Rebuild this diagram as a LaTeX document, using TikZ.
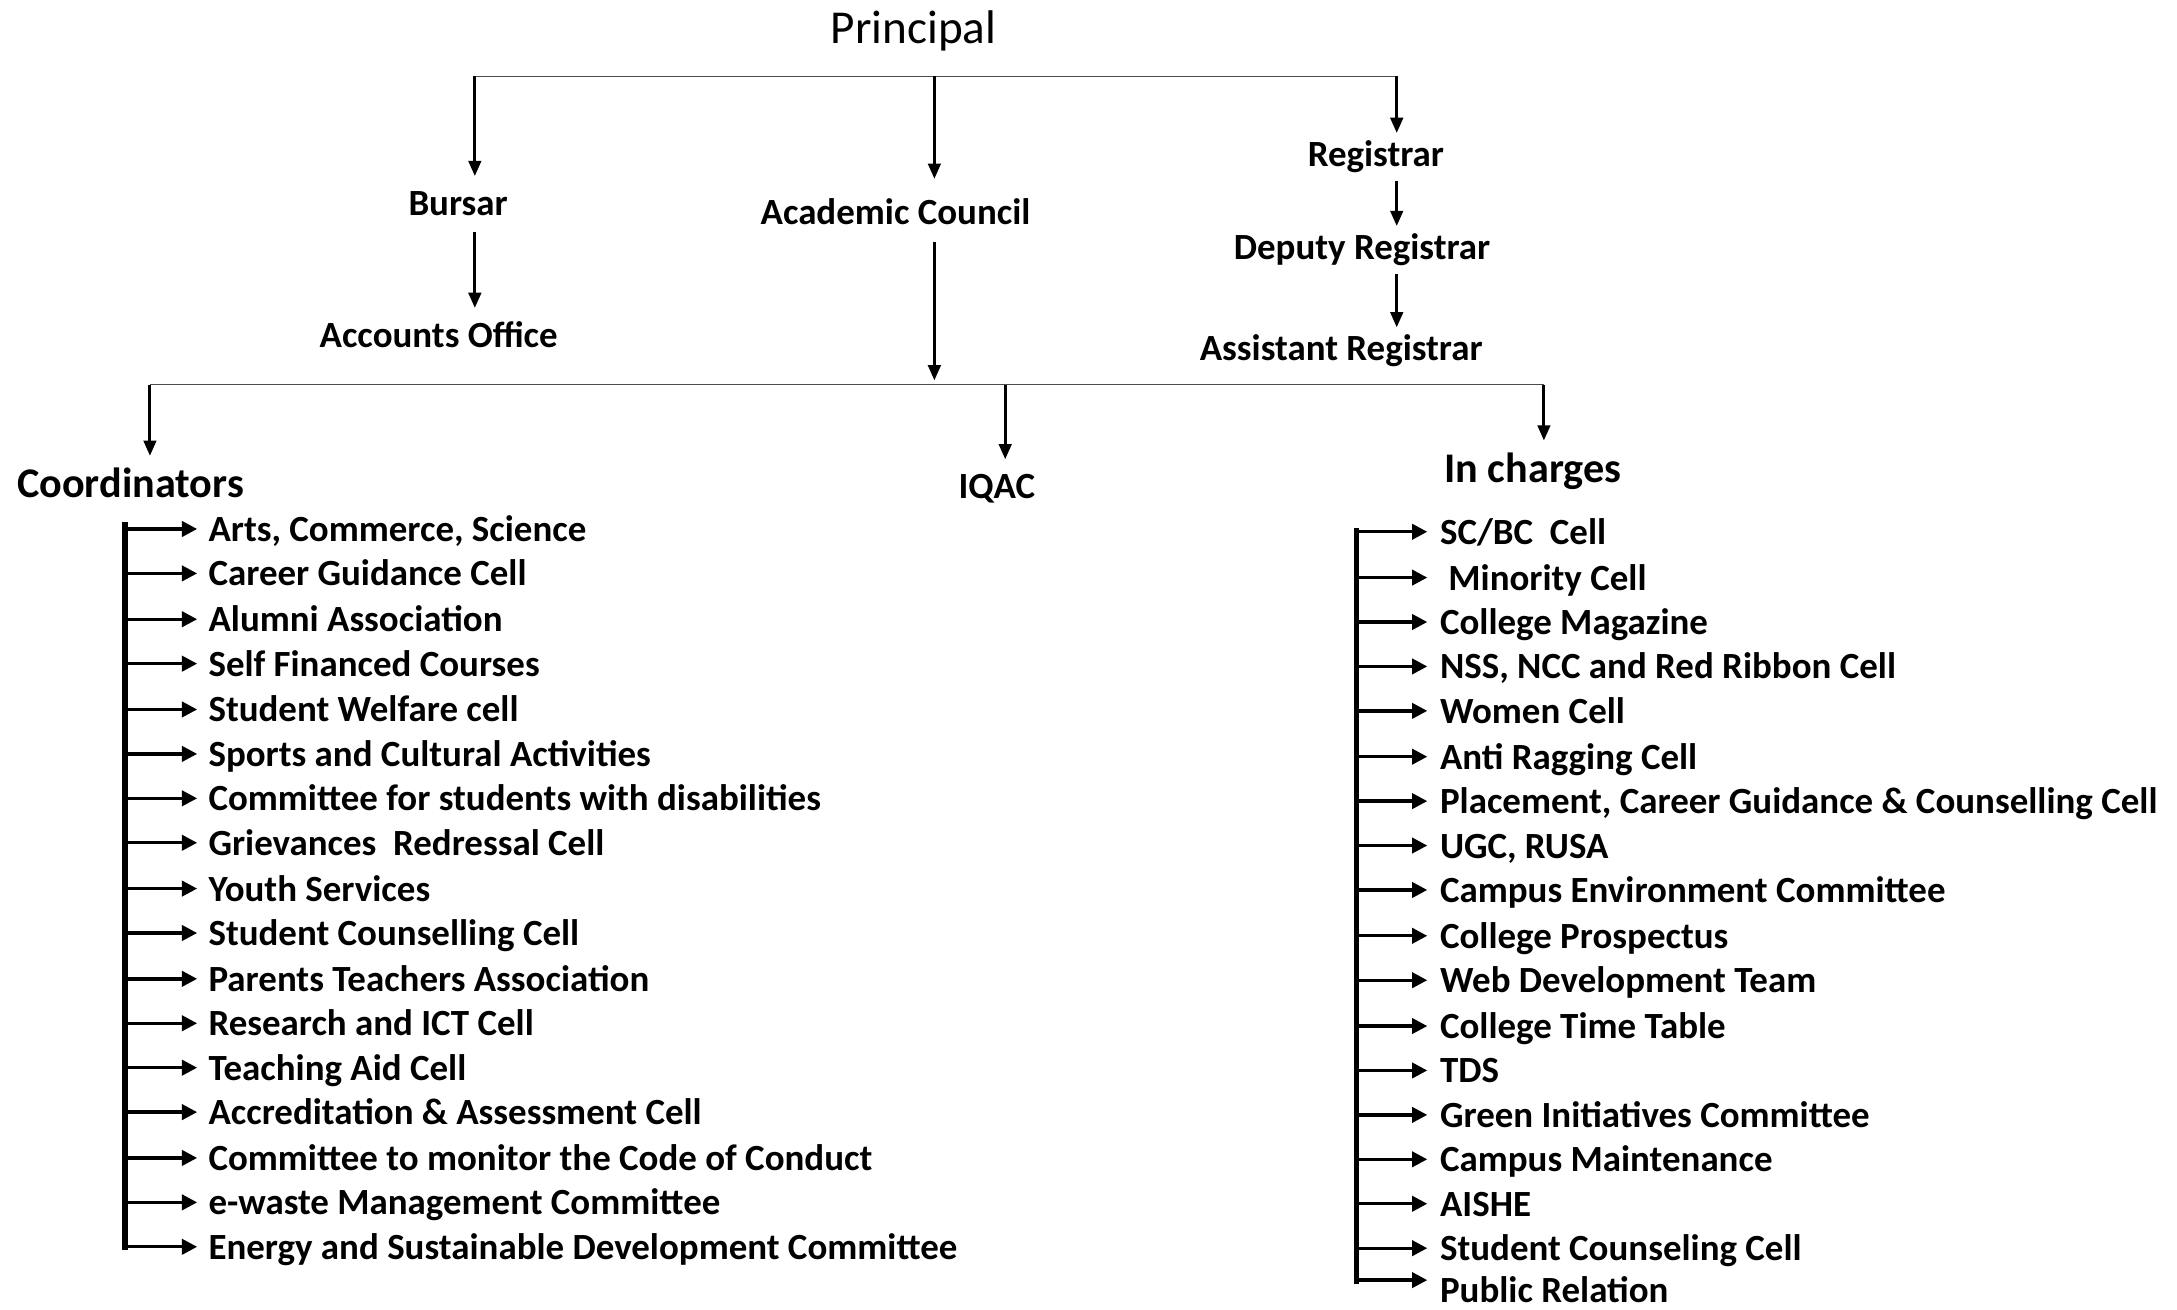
\documentclass[tikz,border=0pt]{standalone}
\usepackage{fontspec}
\setmainfont{Carlito}
\usepackage{tikz}
\usetikzlibrary{arrows.meta}
\tikzset{
Titre/.style={
 font=\fontsize{34}{40}\selectfont,
 inner sep=2pt
 },
Poste/.style={
 font=\bfseries\fontsize{26.6}{32}\selectfont,
 text height=22pt,
 text depth=4pt,
 inner sep=2pt
 },
Groupe/.style={
 font=\bfseries\fontsize{30.4}{36}\selectfont,
 text height=24pt,
 text depth=5pt,
 inner sep=2pt
 },
Cellule/.style={
 Poste,
 anchor=west
 },
Fleche/.style={
 draw=black,
 line width=2.2pt,
 shorten >=4pt,
 -{Triangle[length=11pt,width=9pt]}
 },
LFleche/.style={
 draw=black,
 line width=2.4pt,
 shorten >=#1,
 -{Triangle[length=11pt,width=11pt]}
 },
LFleche/.default={6pt},
Barre/.style={
 draw=black,
 line width=3.8pt
 },
Bus/.style={
 draw=black!70,
 line width=1pt
 }
}
\begin{document}
\begin{tikzpicture}[x=1pt,y=-1pt]
\useasboundingbox (0,0) rectangle (1568,943);
% haut
\node[Titre] (principal) at (658,22) {Principal};
\coordinate (h1) at (341,55);
\coordinate (h2) at (1006,55);
\draw[Bus] (h1) -- (h2);
\coordinate (cb) at (342,55);
\coordinate (ca) at (673,55);
\coordinate (cr) at (1006,55);
\node[Poste] (bursar) at (330,146) {Bursar};
\node[Poste] (accounts) at (316,241) {Accounts Office};
\node[Poste] (academic) at (645,153) {Academic Council};
\node[Poste] (registrar) at (991,111) {Registrar};
\node[Poste] (deputy) at (981,178) {Deputy Registrar};
\node[Poste] (assistant) at (966,251) {Assistant Registrar};
\draw[Fleche] (cb) -- (cb |- bursar.north);
\draw[Fleche, shorten >=9pt] (ca) -- (ca |- academic.north);
\draw[Fleche, shorten >=0pt] (cr) -- (cr |- registrar.north);
\draw[Fleche] ([yshift=-6pt]cb |- bursar.south) -- (cb |- accounts.north);
\draw[Fleche, shorten >=0pt] ([yshift=-4pt]cr |- registrar.south) -- (cr |- deputy.north);
\draw[Fleche, shorten >=0pt] ([yshift=-4pt]cr |- deputy.south) -- (cr |- assistant.north);
% milieu
\coordinate (g1) at (108,277);
\coordinate (g2) at (1112,277);
\coordinate (gi) at (724,277);
\draw[Bus] (g1) -- (g2);
\draw[Fleche, shorten >=3pt] ([yshift=-6pt]ca |- academic.south) -- (ca |- g1);
\node[Groupe] (coord) at (94,349) {Coordinators};
\node[Poste] (iqac) at (718,350) {IQAC};
\node[Groupe] (incharges) at (1104,338) {In charges};
\draw[Fleche] (g1) -- (g1 |- coord.north);
\draw[Fleche] (gi) -- (gi |- iqac.north);
\draw[Fleche] (g2) -- (g2 |- incharges.north);
% coordinateurs
\coordinate (gh) at (90,376);
\coordinate (gb) at (90,900);
\draw[Barre] (gh) -- (gb);
\node[Cellule] (c1) at (148,381) {Arts, Commerce, Science};
\node[Cellule] (c2) at (148,413) {Career Guidance Cell};
\node[Cellule] (c3) at (148,446) {Alumni Association};
\node[Cellule] (c4) at (148,478) {Self Financed Courses};
\node[Cellule] (c5) at (148,511) {Student Welfare cell};
\node[Cellule] (c6) at (148,543) {Sports and Cultural Activities};
\node[Cellule] (c7) at (148,575) {Committee for students with disabilities};
\node[Cellule] (c8) at (148,607) {Grievances \ Redressal Cell};
\node[Cellule] (c9) at (148,640) {Youth Services};
\node[Cellule] (c10) at (148,672) {Student Counselling Cell};
\node[Cellule] (c11) at (148,705) {Parents Teachers Association};
\node[Cellule] (c12) at (148,737) {Research and ICT Cell};
\node[Cellule] (c13) at (148,769) {Teaching Aid Cell};
\node[Cellule] (c14) at (148,801) {Accreditation \& Assessment Cell};
\node[Cellule] (c15) at (148,834) {Committee to monitor the Code of Conduct};
\node[Cellule] (c16) at (148,866) {e-waste Management Committee};
\node[Cellule] (c17) at (148,898) {Energy and Sustainable Development Committee};
\draw[LFleche] (gh |- c1.west) -- (c1.west);
\draw[LFleche] (gh |- c2.west) -- (c2.west);
\draw[LFleche] (gh |- c3.west) -- (c3.west);
\draw[LFleche] (gh |- c4.west) -- (c4.west);
\draw[LFleche] (gh |- c5.west) -- (c5.west);
\draw[LFleche] (gh |- c6.west) -- (c6.west);
\draw[LFleche] (gh |- c7.west) -- (c7.west);
\draw[LFleche] (gh |- c8.west) -- (c8.west);
\draw[LFleche] (gh |- c9.west) -- (c9.west);
\draw[LFleche] (gh |- c10.west) -- (c10.west);
\draw[LFleche] (gh |- c11.west) -- (c11.west);
\draw[LFleche] (gh |- c12.west) -- (c12.west);
\draw[LFleche] (gh |- c13.west) -- (c13.west);
\draw[LFleche] (gh |- c14.west) -- (c14.west);
\draw[LFleche] (gh |- c15.west) -- (c15.west);
\draw[LFleche] (gh |- c16.west) -- (c16.west);
\draw[LFleche] (gh |- c17.west) -- (c17.west);
% responsables
\coordinate (dh) at (977,380);
\coordinate (db) at (977,925);
\draw[Barre] (dh) -- (db);
\node[Cellule] (r1) at (1035,383) {SC/BC \ Cell};
\node[Cellule] (r2) at (1035,416) {\ Minority Cell};
\node[Cellule] (r3) at (1035,448) {College Magazine};
\node[Cellule] (r4) at (1035,480) {NSS, NCC and Red Ribbon Cell};
\node[Cellule] (r5) at (1035,512) {Women Cell};
\node[Cellule] (r6) at (1035,545) {Anti Ragging Cell};
\node[Cellule] (r7) at (1035,577) {Placement, Career Guidance \& Counselling Cell};
\node[Cellule] (r8) at (1035,609) {UGC, RUSA};
\node[Cellule] (r9) at (1035,641) {Campus Environment Committee};
\node[Cellule] (r10) at (1035,674) {College Prospectus};
\node[Cellule] (r11) at (1035,706) {Web Development Team};
\node[Cellule] (r12) at (1035,739) {College Time Table};
\node[Cellule] (r13) at (1035,771) {TDS};
\node[Cellule] (r14) at (1035,803) {Green Initiatives Committee};
\node[Cellule] (r15) at (1035,835) {Campus Maintenance};
\node[Cellule] (r16) at (1035,867) {AISHE};
\node[Cellule] (r17) at (1035,899) {Student Counseling Cell};
\node[Cellule] (r18) at (1035,929) {Public Relation};
\draw[LFleche=7pt] (dh |- r1.west) -- (r1.west);
\draw[LFleche=7pt] (dh |- r2.west) -- (r2.west);
\draw[LFleche=7pt] (dh |- r3.west) -- (r3.west);
\draw[LFleche=7pt] (dh |- r4.west) -- (r4.west);
\draw[LFleche=7pt] (dh |- r5.west) -- (r5.west);
\draw[LFleche=7pt] (dh |- r6.west) -- (r6.west);
\draw[LFleche=7pt] (dh |- r7.west) -- (r7.west);
\draw[LFleche=7pt] (dh |- r8.west) -- (r8.west);
\draw[LFleche=7pt] (dh |- r9.west) -- (r9.west);
\draw[LFleche=7pt] (dh |- r10.west) -- (r10.west);
\draw[LFleche=7pt] (dh |- r11.west) -- (r11.west);
\draw[LFleche=7pt] (dh |- r12.west) -- (r12.west);
\draw[LFleche=7pt] (dh |- r13.west) -- (r13.west);
\draw[LFleche=7pt] (dh |- r14.west) -- (r14.west);
\draw[LFleche=7pt] (dh |- r15.west) -- (r15.west);
\draw[LFleche=7pt] (dh |- r16.west) -- (r16.west);
\draw[LFleche=7pt] (dh |- r17.west) -- (r17.west);
\draw[LFleche=7pt] ([yshift=7pt]dh |- r18.west) -- ([yshift=7pt]r18.west);
\end{tikzpicture}
\end{document}
